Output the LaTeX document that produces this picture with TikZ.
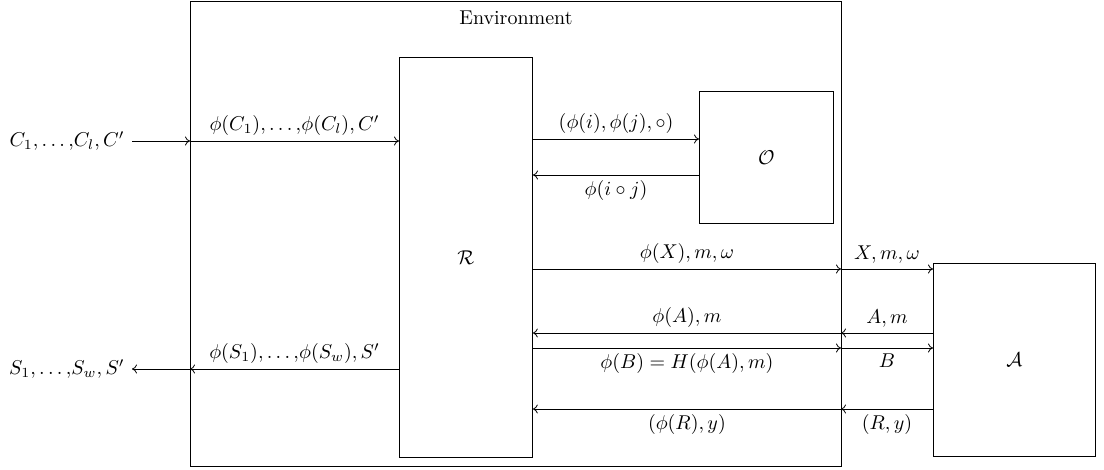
\documentclass[tikz,border=0pt]{standalone}
\usetikzlibrary{arrows.meta}
\begin{document}
\begin{tikzpicture}[x=0.5pt,y=-0.5pt,
  box/.style={draw,inner sep=0pt},
  flow/.style={-{To[length=2.5pt,width=4.5pt]}},
  lbl/.style={inner sep=2.5pt}]
\useasboundingbox (0,0) rectangle (1104,470);
% boxes
\node[box,minimum width=651*0.5pt,minimum height=465*0.5pt,anchor=north west] (env) at (190,0.6) {};
\node[anchor=north] (envl) at (516,4) {Environment};
\node[box,minimum width=133*0.5pt,minimum height=400*0.5pt,anchor=north west] (R) at (399,57) {};
\node at (R.center) {$\mathcal{R}$};
\node[box,minimum width=134*0.5pt,minimum height=132*0.5pt,anchor=north west] (O) at (699,91) {};
\node at (O.center) {$\mathcal{O}$};
\node[box,minimum width=162*0.5pt,minimum height=193*0.5pt,anchor=north west] (A) at (933,263) {};
\node at (A.center) {$\mathcal{A}$};
% left side
\node[anchor=east,inner sep=1pt] (cin) at (127,141) {$C_1{,}\ldots{,}C_l,C'$};
\coordinate (cb) at (190,141);
\draw[flow] ([xshift=2.5]cin.east) -- (cb);
\draw[flow] (cb) -- (R.west |- cb) node[midway,above,lbl] {$\phi(C_1){,}\ldots{,}\phi(C_l),C'$};
\node[anchor=east,inner sep=1pt] (sout) at (127,369) {$S_1{,}\ldots{,}S_w,S'$};
\coordinate (sb) at (190,369);
\draw[flow] (R.west |- sb) -- (sb) node[midway,above,lbl] {$\phi(S_1){,}\ldots{,}\phi(S_w),S'$};
\draw[flow] (sb) -- ([xshift=2.5]sout.east);
% oracle
\coordinate (o1) at (533,139);
\coordinate (o2) at (533,175);
\draw[flow] (o1) -- (O.west |- o1) node[midway,above,lbl] {$(\phi(i),\phi(j),\circ)$};
\draw[flow] (O.west |- o2) -- (o2) node[midway,below,lbl] {$\phi(i\circ j)$};
% adversary
\coordinate (bx) at (841,269);
\coordinate (ba) at (841,333);
\coordinate (bb) at (841,348);
\coordinate (br) at (841,409);
\draw[flow] (R.east |- bx) -- (bx) node[midway,above,lbl] {$\phi(X),m,\omega$};
\draw[flow] (bx) -- (A.west |- bx) node[midway,above,lbl] {$X,m,\omega$};
\draw[flow] (A.west |- ba) -- (ba) node[midway,above,lbl] {$A,m$};
\draw[flow] (ba) -- (R.east |- ba) node[midway,above,lbl] {$\phi(A),m$};
\draw[flow] (R.east |- bb) -- (bb) node[midway,below,lbl] {$\phi(B)=H(\phi(A),m)$};
\draw[flow] (bb) -- (A.west |- bb) node[midway,below,lbl] {$B$};
\draw[flow] (A.west |- br) -- (br) node[midway,below,lbl] {$(R,y)$};
\draw[flow] (br) -- (R.east |- br) node[midway,below,lbl] {$(\phi(R),y)$};
\end{tikzpicture}
\end{document}
